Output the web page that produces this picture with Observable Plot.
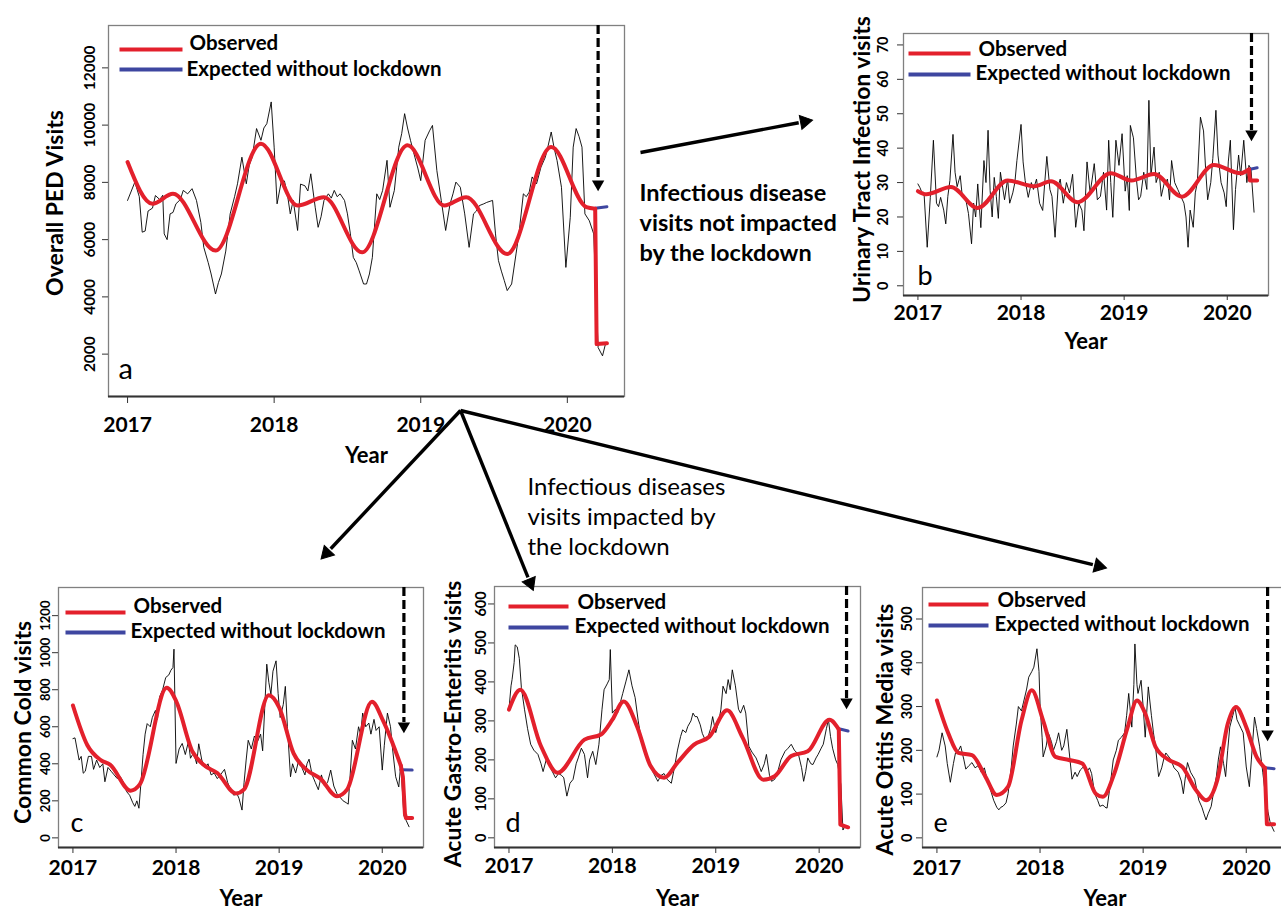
<!DOCTYPE html>
<html><head><meta charset="utf-8">
<script src="https://cdn.jsdelivr.net/npm/d3@7"></script>
<script src="https://cdn.jsdelivr.net/npm/@observablehq/plot@0.6"></script>
<style>
html,body{margin:0;padding:0;background:#fff;}
#page{position:relative;width:1281px;height:910px;overflow:hidden;background:#fff;font-family:Lato,sans-serif;}
.panel{position:absolute;}
</style></head><body><div id="page"></div>
<script>
// ---------- shared ----------
const yearTicks = [2017, 2018, 2019, 2020];
const legendLabels = ["Observed", "Expected without lockdown"];

// ---------- panel a : Overall PED visits ----------
const aYTicks = [2000, 4000, 6000, 8000, 10000, 12000];
const aObserved = [[2017.00,7370],[2017.05,8010],[2017.08,7500],[2017.10,6260],[2017.12,6300],[2017.14,7000],[2017.17,7100],[2017.19,7540],[2017.22,7400],[2017.24,7550],[2017.25,6200],[2017.27,6000],[2017.29,6900],[2017.31,6950],[2017.33,7250],[2017.36,7400],[2017.38,7720],[2017.41,7600],[2017.44,7780],[2017.47,7370],[2017.50,6600],[2017.52,5730],[2017.55,5200],[2017.57,4800],[2017.60,4100],[2017.62,4500],[2017.64,4800],[2017.67,5600],[2017.70,6900],[2017.73,7500],[2017.75,7950],[2017.78,8880],[2017.81,7950],[2017.83,8600],[2017.85,8880],[2017.88,9880],[2017.91,9470],[2017.93,9900],[2017.95,10050],[2017.98,10810],[2018.00,9230],[2018.02,7250],[2018.05,8070],[2018.07,8050],[2018.09,7600],[2018.11,6900],[2018.13,7370],[2018.16,6320],[2018.18,7940],[2018.21,7880],[2018.23,7700],[2018.25,8300],[2018.28,7130],[2018.30,6430],[2018.32,6800],[2018.34,7370],[2018.37,7600],[2018.39,7450],[2018.41,7720],[2018.43,7500],[2018.45,7600],[2018.48,7370],[2018.50,6900],[2018.52,6200],[2018.54,5380],[2018.56,5200],[2018.58,4910],[2018.61,4450],[2018.63,4450],[2018.65,4800],[2018.67,5380],[2018.70,7600],[2018.72,7400],[2018.74,7720],[2018.77,8770],[2018.79,7130],[2018.82,7720],[2018.85,9230],[2018.87,9700],[2018.89,10400],[2018.91,9900],[2018.93,9470],[2018.96,8880],[2018.98,8500],[2019.00,8060],[2019.03,9470],[2019.06,9800],[2019.08,9990],[2019.11,8410],[2019.14,7370],[2019.17,6320],[2019.20,7250],[2019.22,7600],[2019.24,8010],[2019.27,7830],[2019.30,6900],[2019.33,5730],[2019.36,6900],[2019.38,7000],[2019.40,7190],[2019.43,7250],[2019.45,7300],[2019.49,7370],[2019.51,6200],[2019.53,5270],[2019.55,4900],[2019.57,4570],[2019.59,4220],[2019.62,4450],[2019.65,5500],[2019.67,6200],[2019.70,7600],[2019.72,7500],[2019.74,7660],[2019.76,8190],[2019.79,7950],[2019.82,8530],[2019.85,8880],[2019.87,9300],[2019.89,9760],[2019.91,9200],[2019.93,8760],[2019.96,7830],[2019.99,5030],[2020.02,6780],[2020.04,9230],[2020.06,9880],[2020.08,9600],[2020.10,9230],[2020.12,6900],[2020.15,6660],[2020.18,6200],[2020.21,2230],[2020.24,1940],[2020.26,2350]];
const aFit = [[2017.00,8709],[2017.17,7252],[2017.31,7602],[2017.60,5617],[2017.91,9353],[2018.16,7193],[2018.34,7483],[2018.60,5557],[2018.91,9293],[2019.16,7193],[2019.31,7483],[2019.59,5501],[2019.89,9234],[2020.13,7133],[2020.19,7077]];
const aFitLockdown = [[2020.19,7077],[2020.20,2350],[2020.27,2380]];
const aExpected = [[2020.19,7100],[2020.27,7150]];

// ---------- panel b : Urinary tract infection ----------
const bYTicks = [0, 10, 20, 30, 40, 50, 60, 70];
const bObserved = [[2017.00,29.6],[2017.02,28.5],[2017.04,27],[2017.06,26.5],[2017.09,11.2],[2017.12,25.7],[2017.15,42.3],[2017.18,24],[2017.20,23],[2017.22,25.7],[2017.25,22],[2017.27,18],[2017.29,26],[2017.31,30.6],[2017.34,44],[2017.36,33],[2017.38,28.8],[2017.41,32],[2017.43,26],[2017.46,25.7],[2017.49,21],[2017.52,12.2],[2017.54,24],[2017.56,20],[2017.58,29.6],[2017.61,16.9],[2017.64,36.4],[2017.66,30],[2017.68,45.2],[2017.70,27.7],[2017.72,20],[2017.74,31.5],[2017.76,26],[2017.78,19.6],[2017.80,33],[2017.82,29],[2017.84,25],[2017.87,31],[2017.89,24],[2017.92,27],[2017.94,30],[2017.96,36.4],[2018.00,46.9],[2018.02,36],[2018.04,30.6],[2018.07,25.7],[2018.10,30],[2018.12,28],[2018.15,31],[2018.18,24],[2018.21,21.9],[2018.23,30],[2018.25,37.6],[2018.28,28],[2018.30,26],[2018.33,14.1],[2018.36,29],[2018.38,31],[2018.41,24],[2018.44,30],[2018.47,27],[2018.50,32.4],[2018.53,17],[2018.56,24],[2018.59,22],[2018.61,16],[2018.64,36],[2018.67,27],[2018.69,31],[2018.71,35.5],[2018.74,25],[2018.77,26],[2018.80,33],[2018.83,22],[2018.85,42.3],[2018.87,30],[2018.89,19.9],[2018.92,42.3],[2018.95,35],[2018.98,44.2],[2019.01,27.5],[2019.03,32],[2019.05,21.9],[2019.06,46.6],[2019.09,43],[2019.12,30.6],[2019.14,25],[2019.16,26],[2019.19,33],[2019.22,28],[2019.24,53.9],[2019.26,32],[2019.29,40.3],[2019.31,30],[2019.34,33],[2019.36,26],[2019.39,30],[2019.42,31],[2019.44,25],[2019.46,36.4],[2019.49,30],[2019.52,28],[2019.55,26],[2019.58,24],[2019.60,20],[2019.62,11.2],[2019.64,22],[2019.67,17],[2019.69,27],[2019.71,30],[2019.74,49],[2019.77,45],[2019.79,34],[2019.81,25],[2019.84,30],[2019.86,37],[2019.89,51],[2019.91,38],[2019.94,30],[2019.97,27],[2019.99,23],[2020.01,36],[2020.03,42.3],[2020.06,16.3],[2020.08,28],[2020.11,38],[2020.13,32],[2020.16,42.3],[2020.19,30],[2020.21,35],[2020.23,34],[2020.26,21.4]];
const bFit = [[2017.00,27.5],[2017.08,26.6],[2017.32,28.7],[2017.58,22.6],[2017.87,30.6],[2018.13,28.9],[2018.29,30.4],[2018.55,24.3],[2018.87,32.7],[2019.07,30.6],[2019.29,32.5],[2019.56,25.9],[2019.87,35.1],[2020.13,32.7],[2020.21,33.8]];
const bFitLockdown = [[2020.21,33.8],[2020.22,30.6],[2020.29,30.6]];
const bExpected = [[2020.21,33.8],[2020.29,34.3]];

// ---------- panel c : Common cold ----------
const cYTicks = [0, 200, 400, 600, 800, 1000, 1200];
const cObserved = [[2017.00,536],[2017.02,540],[2017.04,480],[2017.06,420],[2017.08,440],[2017.10,349],[2017.12,360],[2017.15,440],[2017.18,440],[2017.20,370],[2017.23,420],[2017.26,380],[2017.29,400],[2017.31,303],[2017.34,380],[2017.37,360],[2017.40,340],[2017.43,320],[2017.46,330],[2017.49,300],[2017.52,250],[2017.55,230],[2017.58,190],[2017.60,170],[2017.62,200],[2017.64,160],[2017.66,300],[2017.68,450],[2017.70,560],[2017.72,617],[2017.75,600],[2017.77,650],[2017.80,688],[2017.82,640],[2017.84,760],[2017.87,800],[2017.90,866],[2017.93,880],[2017.95,905],[2017.97,920],[2017.98,1019],[2018.00,402],[2018.03,480],[2018.06,510],[2018.09,450],[2018.12,520],[2018.14,430],[2018.17,460],[2018.20,400],[2018.22,508],[2018.25,420],[2018.28,380],[2018.31,400],[2018.34,340],[2018.37,350],[2018.40,320],[2018.43,340],[2018.47,370],[2018.50,300],[2018.53,260],[2018.56,230],[2018.59,240],[2018.61,214],[2018.64,150],[2018.66,300],[2018.68,420],[2018.70,527],[2018.73,480],[2018.76,550],[2018.79,520],[2018.82,560],[2018.84,470],[2018.86,700],[2018.88,938],[2018.90,840],[2018.92,776],[2018.94,900],[2018.97,956],[2018.99,780],[2019.01,650],[2019.04,720],[2019.06,818],[2019.08,600],[2019.11,330],[2019.13,400],[2019.16,350],[2019.19,420],[2019.22,380],[2019.25,340],[2019.27,400],[2019.29,425],[2019.32,340],[2019.35,300],[2019.38,260],[2019.41,340],[2019.44,280],[2019.47,300],[2019.50,366],[2019.53,280],[2019.56,240],[2019.59,220],[2019.62,200],[2019.65,190],[2019.67,182],[2019.69,350],[2019.71,527],[2019.74,480],[2019.77,600],[2019.79,560],[2019.81,674],[2019.84,600],[2019.87,620],[2019.89,560],[2019.92,640],[2019.94,580],[2019.97,600],[2020.00,366],[2020.02,500],[2020.05,674],[2020.08,600],[2020.10,480],[2020.13,330],[2020.16,275],[2020.18,400],[2020.21,120],[2020.23,96],[2020.26,60]];
const cFit = [[2017.00,715],[2017.14,500],[2017.27,420],[2017.36,395],[2017.56,255],[2017.65,290],[2017.91,810],[2018.00,740],[2018.16,465],[2018.27,393],[2018.40,350],[2018.58,240],[2018.66,262],[2018.90,770],[2019.00,705],[2019.14,456],[2019.27,366],[2019.40,320],[2019.56,225],[2019.66,262],[2019.90,735],[2020.01,630],[2020.18,390]];
const cFitLockdown = [[2020.18,390],[2020.20,330],[2020.22,130],[2020.23,107],[2020.29,107]];
const cExpected = [[2020.18,368],[2020.29,366]];

// ---------- panel d : Acute gastro-enteritis ----------
const dYTicks = [0, 100, 200, 300, 400, 500, 600];
const dObserved = [[2017.00,330],[2017.02,390],[2017.03,406],[2017.05,450],[2017.06,495],[2017.08,490],[2017.10,460],[2017.12,385],[2017.15,330],[2017.18,280],[2017.21,240],[2017.24,225],[2017.28,214],[2017.31,190],[2017.33,170],[2017.36,200],[2017.38,197],[2017.41,175],[2017.45,154],[2017.48,165],[2017.51,160],[2017.53,154],[2017.56,107],[2017.59,140],[2017.62,150],[2017.65,190],[2017.67,205],[2017.70,230],[2017.73,214],[2017.76,154],[2017.78,200],[2017.81,222],[2017.84,188],[2017.87,240],[2017.90,330],[2017.92,380],[2017.95,395],[2017.97,406],[2017.98,483],[2018.00,320],[2018.03,330],[2018.05,320],[2018.08,350],[2018.10,370],[2018.13,400],[2018.16,431],[2018.19,390],[2018.22,360],[2018.25,300],[2018.28,250],[2018.31,230],[2018.34,200],[2018.37,184],[2018.40,165],[2018.44,145],[2018.47,160],[2018.50,165],[2018.53,150],[2018.57,140],[2018.60,180],[2018.63,225],[2018.66,260],[2018.68,277],[2018.71,270],[2018.73,286],[2018.76,300],[2018.78,320],[2018.80,311],[2018.82,311],[2018.85,290],[2018.87,268],[2018.90,250],[2018.92,255],[2018.95,280],[2018.97,311],[2019.00,270],[2019.03,300],[2019.05,330],[2019.07,389],[2019.10,370],[2019.12,406],[2019.14,380],[2019.16,431],[2019.19,390],[2019.22,330],[2019.24,320],[2019.27,340],[2019.29,320],[2019.32,235],[2019.35,220],[2019.39,205],[2019.42,185],[2019.44,170],[2019.47,190],[2019.49,214],[2019.52,160],[2019.54,145],[2019.57,150],[2019.60,170],[2019.63,200],[2019.67,222],[2019.70,230],[2019.73,240],[2019.76,225],[2019.80,214],[2019.83,180],[2019.85,145],[2019.87,170],[2019.89,205],[2019.92,190],[2019.94,188],[2019.97,205],[2019.99,214],[2020.02,230],[2020.04,240],[2020.07,280],[2020.09,303],[2020.11,260],[2020.13,230],[2020.16,200],[2020.18,188],[2020.21,137],[2020.23,20],[2020.25,30],[2020.27,27]];
const dFit = [[2017.00,329],[2017.11,380],[2017.31,235],[2017.47,167],[2017.73,252],[2017.89,265],[2018.00,303],[2018.11,350],[2018.24,285],[2018.37,184],[2018.50,154],[2018.63,193],[2018.79,239],[2018.94,260],[2019.11,327],[2019.26,257],[2019.46,149],[2019.57,158],[2019.73,210],[2019.89,222],[2020.10,303],[2020.19,278]];
const dFitLockdown = [[2020.19,278],[2020.205,34],[2020.28,27]];
const dExpected = [[2020.19,280],[2020.28,274]];

// ---------- panel e : Acute otitis media ----------
const eYTicks = [0, 100, 200, 300, 400, 500];
const eObserved = [[2017.00,185],[2017.02,200],[2017.05,240],[2017.08,210],[2017.10,170],[2017.13,127],[2017.16,170],[2017.18,194],[2017.21,200],[2017.23,210],[2017.26,180],[2017.28,157],[2017.31,165],[2017.34,172],[2017.37,160],[2017.40,165],[2017.43,150],[2017.46,160],[2017.48,140],[2017.51,117],[2017.55,86],[2017.58,70],[2017.60,64],[2017.62,70],[2017.64,72],[2017.67,80],[2017.69,101],[2017.72,160],[2017.74,210],[2017.77,260],[2017.79,300],[2017.82,290],[2017.84,310],[2017.87,340],[2017.89,367],[2017.92,380],[2017.94,390],[2017.97,432],[2017.99,380],[2018.00,306],[2018.02,230],[2018.03,185],[2018.06,210],[2018.08,240],[2018.11,220],[2018.13,200],[2018.16,220],[2018.18,240],[2018.21,200],[2018.23,210],[2018.26,248],[2018.29,180],[2018.31,134],[2018.34,150],[2018.36,140],[2018.39,155],[2018.42,162],[2018.45,150],[2018.48,160],[2018.50,147],[2018.53,101],[2018.56,85],[2018.58,72],[2018.61,75],[2018.63,70],[2018.65,68],[2018.68,120],[2018.71,178],[2018.74,200],[2018.76,223],[2018.79,230],[2018.82,240],[2018.84,280],[2018.86,330],[2018.89,253],[2018.91,350],[2018.92,443],[2018.94,350],[2018.95,330],[2018.98,360],[2019.00,300],[2019.02,230],[2019.05,345],[2019.08,280],[2019.10,240],[2019.12,208],[2019.15,140],[2019.18,160],[2019.20,180],[2019.22,194],[2019.25,185],[2019.27,178],[2019.30,160],[2019.34,150],[2019.37,130],[2019.39,101],[2019.41,140],[2019.43,172],[2019.46,150],[2019.50,134],[2019.52,110],[2019.54,86],[2019.57,70],[2019.59,55],[2019.61,41],[2019.63,55],[2019.66,72],[2019.68,100],[2019.71,140],[2019.73,180],[2019.75,208],[2019.78,170],[2019.80,140],[2019.82,200],[2019.84,253],[2019.87,280],[2019.89,299],[2019.91,270],[2019.93,260],[2019.95,250],[2019.97,240],[2020.00,162],[2020.03,117],[2020.05,180],[2020.08,276],[2020.10,250],[2020.13,208],[2020.16,150],[2020.18,110],[2020.21,60],[2020.23,37],[2020.25,25],[2020.27,15]];
const eFit = [[2017.00,314],[2017.11,239],[2017.21,194],[2017.34,189],[2017.47,140],[2017.58,98],[2017.69,117],[2017.82,268],[2017.92,337],[2018.03,268],[2018.15,185],[2018.28,178],[2018.41,170],[2018.54,101],[2018.61,94],[2018.72,147],[2018.85,253],[2018.94,314],[2019.02,284],[2019.12,208],[2019.25,178],[2019.38,162],[2019.51,110],[2019.61,86],[2019.72,133],[2019.82,260],[2019.90,299],[2020.00,253],[2020.10,185],[2020.18,160]];
const eFitLockdown = [[2020.18,160],[2020.20,31],[2020.27,31]];
const eExpected = [[2020.18,160],[2020.27,158]];

// ---------- annotations ----------
const noteNotImpacted = "Infectious disease\nvisits not impacted\nby the lockdown";
const noteImpacted = "Infectious diseases\nvisits impacted by\nthe lockdown";

const RED = "#e3202c", BLUE = "#3e46a0";

const panels = [
  {letter:"a", yLabel:"Overall PED Visits", observed:aObserved, fit:aFit, fitLock:aFitLockdown, expected:aExpected, yTicks:aYTicks,
   frame:{left:108, top:25, w:516, h:371}, xDomain:[2016.87,2020.39], yDomain:[520,13480],
   yTickSize:15.5, yTickDx:-18, yLabelDx:-53, yLabelDy:-8, xTickLen:7, xTickPad:14, yearDy:59, letterDx:10, letterDy:-27, letterSize:29,
   arrowX:2020.21, arrowTip:165,
   leg:{lx1:11, lx2:74, ly1:24, ly2:44, tx1:81, ty1:18, tx2:78, ty2:44}},
  {letter:"b", yLabel:"Urinary Tract Infection visits", observed:bObserved, fit:bFit, fitLock:bFitLockdown, expected:bExpected, yTicks:bYTicks,
   frame:{left:903, top:33, w:365, h:262}, xDomain:[2016.86,2020.40], yDomain:[-2.82,73.32],
   yTickSize:14.5, yTickDx:-20, yLabelDx:-41, yLabelDy:-5, xTickLen:5, xTickPad:5, yearDy:46, letterDx:14, letterDy:-19, letterSize:27,
   arrowX:2020.235, arrowTip:107,
   leg:{lx1:5, lx2:67, ly1:20, ly2:41, tx1:75, ty1:16, tx2:72, ty2:40}},
  {letter:"c", yLabel:"Common Cold visits", observed:cObserved, fit:cFit, fitLock:cFitLockdown, expected:cExpected, yTicks:cYTicks,
   frame:{left:58, top:587, w:365, h:260}, xDomain:[2016.86,2020.40], yDomain:[-52,1352],
   yTickSize:13, yTickDx:-13, yLabelDx:-35, yLabelDy:5, xTickLen:6, xTickPad:7, yearDy:51, letterDx:12, letterDy:-24, letterSize:27,
   arrowX:2020.21, arrowTip:145,
   leg:{lx1:7, lx2:67, ly1:25, ly2:45, tx1:75, ty1:19, tx2:72, ty2:44}},
  {letter:"d", yLabel:"Acute Gastro-Enteritis visits", observed:dObserved, fit:dFit, fitLock:dFitLockdown, expected:dExpected, yTicks:dYTicks,
   frame:{left:494, top:586, w:366, h:261}, xDomain:[2016.86,2020.40], yDomain:[-24.8,644.8],
   yTickSize:14.5, yTickDx:-13, yLabelDx:-41, yLabelDy:7, xTickLen:6, xTickPad:5, yearDy:51, letterDx:11, letterDy:-24, letterSize:27,
   arrowX:2020.265, arrowTip:122,
   leg:{lx1:14, lx2:74, ly1:20, ly2:41, tx1:83, ty1:16, tx2:80, ty2:40}},
  {letter:"e", yLabel:"Acute Otitis Media visits", observed:eObserved, fit:eFit, fitLock:eFitLockdown, expected:eExpected, yTicks:eYTicks,
   frame:{left:922, top:587, w:365, h:260}, xDomain:[2016.86,2020.40], yDomain:[-22,572],
   yTickSize:14.5, yTickDx:-15, yLabelDx:-37, yLabelDy:12, xTickLen:6, xTickPad:7, yearDy:51, letterDx:11, letterDy:-24, letterSize:27,
   arrowX:2020.207, arrowTip:153,
   leg:{lx1:6, lx2:66, ly1:17, ly2:38, tx1:75, ty1:13, tx2:72, ty2:37}}
];

const page = document.getElementById("page");
const FONT = "Lato, 'Open Sans', sans-serif";
const X = d => d[0], Y = d => d[1];

for (const p of panels) {
  const mL = 80, mT = 12, mR = 8, mB = 75;
  const {frame, xDomain, yDomain, leg} = p;
  const W = frame.w + mL + mR, H = frame.h + mT + mB;
  const xAt = px => xDomain[0] + px / frame.w * (xDomain[1] - xDomain[0]);
  const yAt = py => yDomain[1] - py / frame.h * (yDomain[1] - yDomain[0]);
  const legendRed = [{x1: xAt(leg.lx1), x2: xAt(leg.lx2), y: yAt(leg.ly1)}];
  const legendBlue = [{x1: xAt(leg.lx1), x2: xAt(leg.lx2), y: yAt(leg.ly2)}];
  const arrowShaft = [{x: p.arrowX, y1: yDomain[1], y2: yAt(p.arrowTip - 10)}];
  const arrowHead = [{x: p.arrowX, y: yAt(p.arrowTip - 6.5)}];
  const chart = Plot.plot({
    width: W, height: H, marginLeft: mL, marginTop: mT, marginRight: mR, marginBottom: mB,
    x: {domain: xDomain},
    y: {domain: yDomain},
    style: {background: "transparent", overflow: "visible", fontFamily: FONT, color: "#000"},
    marks: [
      Plot.frame({stroke: "#808080", strokeWidth: 1.3}),
      Plot.ruleY([yDomain[0]], {stroke: "#333", strokeWidth: 2}),
      Plot.axisX(yearTicks, {tickSize: p.xTickLen, tickPadding: p.xTickPad, tickFormat: d => String(d), fontSize: 21, fontWeight: "bold", label: null, stroke: "#333"}),
      Plot.axisY(p.yTicks, {tickSize: 6, tickFormat: () => "", label: null, stroke: "#333"}),
      Plot.text(p.yTicks, {y: d => d, text: d => String(d), frameAnchor: "left", rotate: -90, dx: p.yTickDx, fontSize: p.yTickSize, fontWeight: "bold", textAnchor: "middle", lineAnchor: "middle"}),
      Plot.text([p.yLabel], {text: d => d, frameAnchor: "left", rotate: -90, dx: p.yLabelDx, dy: p.yLabelDy, fontSize: 23, fontWeight: "bold", textAnchor: "middle", lineAnchor: "middle"}),
      Plot.text(["Year"], {text: d => d, frameAnchor: "bottom", dy: p.yearDy, fontSize: 22, fontWeight: "bold", lineAnchor: "middle"}),
      Plot.text([p.letter], {text: d => d, frameAnchor: "bottom-left", dx: p.letterDx, dy: p.letterDy, fontSize: p.letterSize, textAnchor: "start", lineAnchor: "middle"}),
      Plot.line(p.observed, {x: X, y: Y, stroke: "#000", strokeWidth: 0.9}),
      Plot.line(p.expected, {x: X, y: Y, stroke: BLUE, strokeWidth: 3}),
      Plot.line(p.fit, {x: X, y: Y, curve: "monotone-x", stroke: RED, strokeWidth: 4}),
      Plot.line(p.fitLock, {x: X, y: Y, stroke: RED, strokeWidth: 4}),
      Plot.link(legendRed, {x1: "x1", x2: "x2", y1: "y", y2: "y", stroke: RED, strokeWidth: 4}),
      Plot.link(legendBlue, {x1: "x1", x2: "x2", y1: "y", y2: "y", stroke: BLUE, strokeWidth: 4}),
      Plot.text([legendLabels[0]], {text: d => d, frameAnchor: "top-left", dx: leg.tx1, dy: leg.ty1, fontSize: 20.5, fontWeight: "bold", textAnchor: "start", lineAnchor: "middle"}),
      Plot.text([legendLabels[1]], {text: d => d, frameAnchor: "top-left", dx: leg.tx2, dy: leg.ty2, fontSize: 20.5, fontWeight: "bold", textAnchor: "start", lineAnchor: "middle"}),
      Plot.ruleX(arrowShaft, {x: "x", y1: "y1", y2: "y2", stroke: "#000", strokeWidth: 3.2, strokeDasharray: "9,4"}),
      Plot.dot(arrowHead, {x: "x", y: "y", symbol: "triangle", r: 4.6, fill: "#000", stroke: "none", rotate: 180})
    ]
  });
  const div = document.createElement("div");
  div.className = "panel";
  div.style.left = (frame.left - mL) + "px";
  div.style.top = (frame.top - mT) + "px";
  div.style.width = W + "px";
  div.style.height = H + "px";
  div.appendChild(chart);
  page.appendChild(div);
}

// ---------- overlay: connecting arrows and notes (page pixel space) ----------
const connectorArrows = [
  {x1: 640, y1: 152, x2: 810, y2: 120},
  {x1: 460, y1: 410, x2: 322, y2: 557},
  {x1: 460, y1: 410, x2: 532, y2: 588},
  {x1: 460, y1: 410, x2: 1104, y2: 567}
];
const notes = [
  {x: 639, y: 179, text: noteNotImpacted, weight: "bold"},
  {x: 527, y: 473, text: noteImpacted, weight: "normal"}
];
// shaft stops short of the tip; a filled triangle forms the head
const headBack = 12;
const shafts = connectorArrows.map(a => {
  const L = Math.hypot(a.x2 - a.x1, a.y2 - a.y1);
  const ux = (a.x2 - a.x1) / L, uy = (a.y2 - a.y1) / L;
  return {x1: a.x1, y1: a.y1, x2: a.x2 - ux * headBack, y2: a.y2 - uy * headBack};
});
const heads = connectorArrows.map(a => {
  const L = Math.hypot(a.x2 - a.x1, a.y2 - a.y1);
  const ux = (a.x2 - a.x1) / L, uy = (a.y2 - a.y1) / L;
  return {x: a.x2 - ux * 6, y: a.y2 - uy * 6, angle: Math.atan2(ux, -uy) * 180 / Math.PI};
});
const overlay = Plot.plot({
  width: 1281, height: 910, margin: 0,
  x: {domain: [0, 1281], range: [0, 1281], axis: null},
  y: {domain: [0, 910], range: [0, 910], axis: null},
  style: {background: "transparent", overflow: "visible", fontFamily: FONT, color: "#000"},
  marks: [
    Plot.link(shafts, {x1: "x1", y1: "y1", x2: "x2", y2: "y2", stroke: "#000", strokeWidth: 3.4}),
    Plot.dot(heads, {x: "x", y: "y", rotate: "angle", symbol: "triangle", r: 5.2, fill: "#000", stroke: "#000", strokeWidth: 1}),
    Plot.text(notes.filter(n => n.weight === "bold"), {x: "x", y: "y", text: "text", fontSize: 23.5, fontWeight: "bold", textAnchor: "start", lineAnchor: "top", lineHeight: 1.28}),
    Plot.text(notes.filter(n => n.weight !== "bold"), {x: "x", y: "y", text: "text", fontSize: 24, fontWeight: "normal", textAnchor: "start", lineAnchor: "top", lineHeight: 1.25})
  ]
});
const od = document.createElement("div");
od.className = "panel";
od.style.left = "0px"; od.style.top = "0px"; od.style.width = "1281px"; od.style.height = "910px";
od.style.pointerEvents = "none";
od.appendChild(overlay);
page.appendChild(od);
</script>
</body></html>
